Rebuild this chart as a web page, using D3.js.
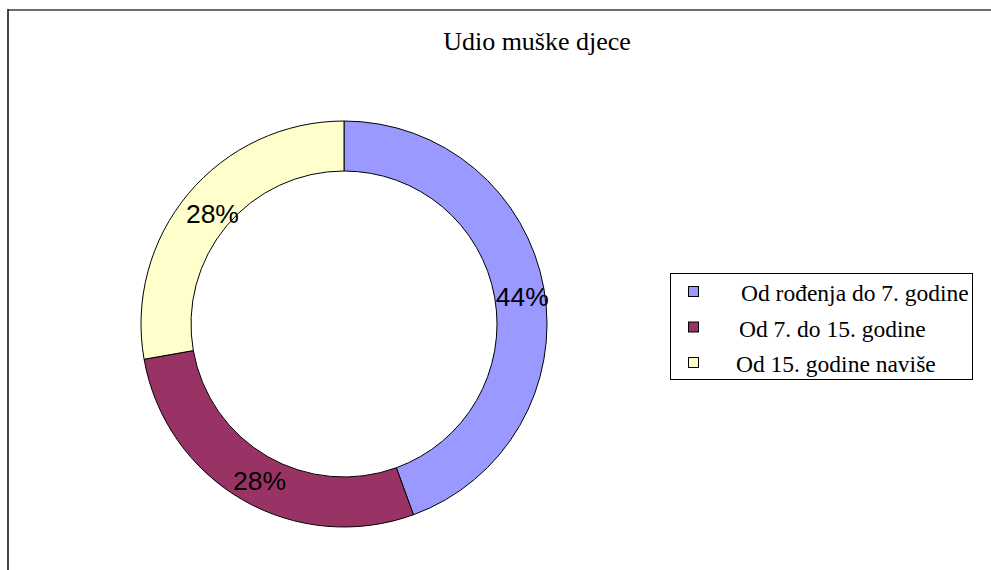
<!DOCTYPE html>
<html>
<head>
<meta charset="utf-8">
<script src="https://cdn.jsdelivr.net/npm/d3@7"></script>
<style>
  body { margin: 0; background: #fff; }
  svg { display: block; }
</style>
</head>
<body>
<svg id="chart" width="991" height="570"></svg>
<script>
// podaci
const title = 'Udio muške djece';
const categories = ['Od rođenja do 7. godine', 'Od 7. do 15. godine', 'Od 15. godine naviše'];
const values = [16, 10, 10];
const colors = ['#9999FF', '#993366', '#FFFFCC'];

const width = 991;
const height = 570;
const svg = d3.select('#chart');

// okvir grafikona (vidi se samo gornji i lijevi rub)
svg.append('line')
  .attr('x1', 8).attr('y1', 10).attr('x2', width).attr('y2', 10)
  .attr('stroke', '#6e6e6e').attr('stroke-width', 2);
svg.append('line')
  .attr('x1', 8).attr('y1', 9).attr('x2', 8).attr('y2', height)
  .attr('stroke', '#1a1a1a').attr('stroke-width', 1.6);

svg.append('text')
  .attr('x', 537)
  .attr('y', 50)
  .attr('text-anchor', 'middle')
  .attr('font-family', '"Liberation Serif", "DejaVu Serif", serif')
  .attr('font-size', 26)
  .attr('fill', '#000')
  .text(title);

const cx = 344;
const cy = 324;
const outerR = 203;
const innerR = 153;

const total = d3.sum(values);
const pie = d3.pie().sort(null).value(d => d)(values);
const arc = d3.arc().innerRadius(innerR).outerRadius(outerR);
const labelArc = d3.arc().innerRadius(177).outerRadius(177);

const donut = svg.append('g').attr('transform', `translate(${cx},${cy})`);

donut.selectAll('path.slice')
  .data(pie)
  .enter().append('path')
  .attr('class', 'slice')
  .attr('d', arc)
  .attr('fill', (d, i) => colors[i])
  .attr('stroke', '#000')
  .attr('stroke-width', 1)
  .attr('stroke-linejoin', 'round');

donut.selectAll('text.label')
  .data(pie)
  .enter().append('text')
  .attr('class', 'label')
  .attr('transform', d => {
    let [x, y] = labelArc.centroid(d);
    return `translate(${x + 4},${y + 4})`;
  })
  .attr('text-anchor', 'middle')
  .attr('dominant-baseline', 'central')
  .attr('font-family', '"Liberation Sans", Arial, sans-serif')
  .attr('font-size', 26.5)
  .attr('fill', '#000')
  .text(d => Math.round(d.value / total * 100) + '%');

// legenda
const legend = svg.append('g');
legend.append('rect')
  .attr('x', 670.5).attr('y', 273.5)
  .attr('width', 302).attr('height', 106)
  .attr('fill', '#fff')
  .attr('stroke', '#000')
  .attr('stroke-width', 1);

const legendY = d3.scalePoint().domain(categories).range([292, 363]);
const textX = [741, 739, 736];

let item = legend.selectAll('g.item')
  .data(categories)
  .enter().append('g')
  .attr('class', 'item');
item.append('rect')
  .attr('x', 688.5)
  .attr('y', d => legendY(d) - 5.5)
  .attr('width', 10).attr('height', 10)
  .attr('fill', (d, i) => colors[i])
  .attr('stroke', '#000')
  .attr('stroke-width', 1);
item.append('text')
  .attr('x', (d, i) => textX[i])
  .attr('y', d => legendY(d) + 9)
  .attr('font-family', '"Liberation Serif", "DejaVu Serif", serif')
  .attr('font-size', 23.5)
  .attr('fill', '#000')
  .text(d => d);
</script>
</body>
</html>
